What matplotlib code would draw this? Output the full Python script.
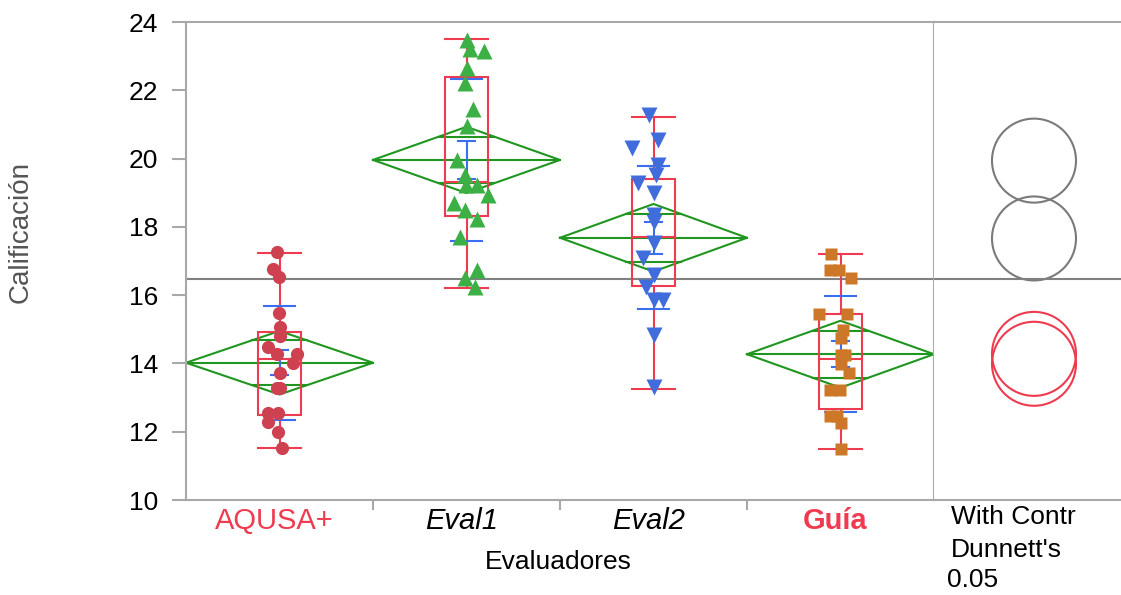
import numpy as np
import matplotlib
matplotlib.use("Agg")
import matplotlib.pyplot as plt
import matplotlib.transforms as mtransforms
from matplotlib.patches import Circle, Rectangle

plt.rcParams['font.family'] = ['Liberation Sans', 'DejaVu Sans']

# groups on the x axis
groups = ["AQUSA+", "Eval1", "Eval2", "Guía"]

# raw scores and their horizontal jitter
aqusa_vals = [17.25, 16.77, 16.53, 15.48, 15.07, 14.80, 14.49, 14.27, 14.27, 14.02,
              13.73, 13.27, 13.27, 12.54, 12.54, 12.29, 12.00, 11.51]
aqusa_jit = [-0.016, -0.037, -0.005, -0.005, 0.0, 0.0, -0.059, -0.016, 0.096, 0.070,
             0.0, -0.016, 0.005, -0.059, -0.010, -0.059, -0.010, 0.016]

eval1_vals = [23.47, 23.20, 23.16, 22.64, 22.20, 21.44, 20.95, 19.96, 19.52, 19.23,
              19.23, 18.93, 18.71, 18.50, 18.22, 17.71, 16.74, 16.49, 16.25]
eval1_jit = [0.001, 0.019, 0.095, 0.0, -0.008, 0.033, 0.0, -0.052, -0.008, -0.003,
             0.055, 0.117, -0.067, -0.008, 0.055, -0.035, 0.055, -0.008, 0.045]

eval2_vals = [21.28, 20.54, 20.30, 19.81, 19.52, 19.28, 19.00, 18.35, 18.15, 17.52,
              17.08, 16.59, 16.25, 15.86, 15.86, 14.83, 13.32]
eval2_jit = [-0.022, 0.022, -0.117, 0.022, 0.012, -0.084, 0.003, 0.003, 0.003, 0.003,
             -0.055, 0.0, -0.040, 0.0, 0.049, 0.0, 0.0]

guia_vals = [17.20, 16.74, 16.74, 16.51, 15.45, 15.45, 14.98, 14.74, 14.25, 14.25,
             13.98, 13.71, 13.22, 13.22, 12.46, 12.46, 12.25, 11.50]
guia_jit = [-0.052, -0.056, -0.008, 0.056, -0.115, 0.033, 0.012, 0.003, 0.003, 0.022,
            0.003, 0.045, -0.056, -0.003, -0.056, -0.020, 0.003, 0.003]

# summary statistics shown in the plot
means = [14.02, 19.96, 17.68, 14.27]
ci_half = [0.93, 0.97, 0.99, 0.98]
q1 = [12.49, 18.32, 16.28, 12.66]
medians = [14.12, 19.32, 17.71, 14.12]
q3 = [14.93, 22.38, 19.40, 15.45]
whisk_lo = [11.52, 16.22, 13.24, 11.48]
whisk_hi = [17.23, 23.49, 21.23, 17.20]
std_dev = [1.67, 2.36, 2.10, 1.70]
std_err = [0.37, 0.56, 0.47, 0.38]
grand_mean = 16.48

# Dunnett comparison circles (centre and radius in score units)
circle_centres = [13.99, 19.94, 17.66, 14.28]
circle_radius = 1.23

RED = "#ef3b50"
GREEN = "#1f961f"
BLUE = "#3a70f0"
FRAME = "#a8a8a8"
point_colors = ["#cd4150", "#3cb045", "#416ddc", "#cd7828"]
point_markers = ["o", "^", "v", "s"]
point_sizes = [9.5, 11.5, 11.5, 8.5]
circle_colors = [RED, "#7a7a7a", "#7a7a7a", RED]

all_vals = [aqusa_vals, eval1_vals, eval2_vals, guia_vals]
all_jit = [aqusa_jit, eval1_jit, eval2_jit, guia_jit]

W, H = 1121, 595
fig = plt.figure(figsize=(W / 100, H / 100), dpi=100)
ax = fig.add_axes([186 / W, 95 / H, 748 / W, 478 / H])
axr = fig.add_axes([934 / W, 95 / H, 187 / W, 478 / H])

box_hw = 0.117
lw = 1.5

for i in range(len(groups)):
    m, c = means[i], ci_half[i]
    # means diamond
    ax.plot([i - 0.5, i, i + 0.5, i, i - 0.5], [m, m + c, m, m - c, m],
            color=GREEN, lw=lw, zorder=2)
    ax.plot([i - 0.5, i + 0.5], [m, m], color=GREEN, lw=lw, zorder=2)
    ov = c / np.sqrt(2)
    hw = 0.5 * (1 - 1 / np.sqrt(2))
    for yy in (m + ov, m - ov):
        ax.plot([i - hw, i + hw], [yy, yy], color=GREEN, lw=lw, zorder=2)

    # box plot
    ax.add_patch(Rectangle((i - box_hw, q1[i]), 2 * box_hw, q3[i] - q1[i],
                           fill=False, edgecolor=RED, lw=lw, zorder=3))
    ax.plot([i - box_hw, i + box_hw], [medians[i]] * 2, color=RED, lw=lw, zorder=3)
    ax.plot([i, i], [q3[i], whisk_hi[i]], color=RED, lw=lw, zorder=3)
    ax.plot([i, i], [q1[i], whisk_lo[i]], color=RED, lw=lw, zorder=3)
    for yy in (whisk_lo[i], whisk_hi[i]):
        ax.plot([i - box_hw, i + box_hw], [yy, yy], color=RED, lw=lw, zorder=3)

    # std dev lines and mean error bars
    for yy in (m + std_dev[i], m - std_dev[i]):
        ax.plot([i - 0.083, i + 0.083], [yy, yy], color=BLUE, lw=lw, zorder=3)
    ax.plot([i, i], [m - std_err[i], m + std_err[i]], color=BLUE, lw=lw, zorder=3)
    for yy in (m + std_err[i], m - std_err[i]):
        ax.plot([i - 0.043, i + 0.043], [yy, yy], color=BLUE, lw=lw, zorder=3)

    # data points
    ax.plot(i + np.array(all_jit[i]), all_vals[i], ls="none",
            marker=point_markers[i], ms=point_sizes[i], color=point_colors[i],
            mec="none", zorder=5)

ax.axhline(grand_mean, color="#808080", lw=lw, zorder=1)
ax.set_xlim(-0.5, len(groups) - 0.5)
ax.set_ylim(10, 24)
ax.set_yticks(np.arange(10, 25, 2))
ax.tick_params(axis="y", length=10, width=1.5, color=FRAME, pad=10, labelsize=19)
ax.set_xticks(range(len(groups)))
ax.set_xticklabels(groups)
ax.set_xticks([0.5, 1.5, 2.5], minor=True)
ax.tick_params(axis="x", which="major", length=0, pad=5, labelsize=21)
ax.tick_params(axis="x", which="minor", length=7, width=1.5, color=FRAME)
labels = ax.get_xticklabels()
labels[0].set_color(RED)
labels[1].set_style("italic")
labels[2].set_style("italic")
labels[3].set_color(RED)
labels[3].set_fontweight("bold")
shift = mtransforms.ScaledTranslation(-5 / 100, 0, fig.dpi_scale_trans)
for lab in labels:
    lab.set_transform(lab.get_transform() + shift)
for s in ax.spines.values():
    s.set_color(FRAME)
    s.set_linewidth(lw)

# comparison circles panel
px_per_unit = 478 / 14
axr.set_xlim(0, 187 / px_per_unit)
axr.set_ylim(10, 24)
for i in range(len(groups)):
    axr.add_patch(Circle((100 / px_per_unit, circle_centres[i]), circle_radius,
                         fill=False, edgecolor=circle_colors[i], lw=1.5))
axr.axhline(grand_mean, color="#808080", lw=lw)
axr.set_xticks([])
axr.set_yticks([])
axr.spines["left"].set_visible(False)
axr.spines["right"].set_visible(False)
for s in ("top", "bottom"):
    axr.spines[s].set_color(FRAME)
    axr.spines[s].set_linewidth(lw)

fig.text(558 / W, 1 - 562 / H, "Evaluadores", ha="center", va="center", fontsize=19)
fig.text(21 / W, 1 - 232 / H, "Calificación", rotation=90, ha="center", va="center",
         fontsize=20, color="#555555")
fig.text(951 / W, 1 - 517 / H, "With Contr", ha="left", va="center", fontsize=19)
fig.text(951 / W, 1 - 550 / H, "Dunnett's", ha="left", va="center", fontsize=19)
fig.text(947 / W, 1 - 580 / H, "0.05", ha="left", va="center", fontsize=19)

fig.savefig("out.png", dpi=100)
